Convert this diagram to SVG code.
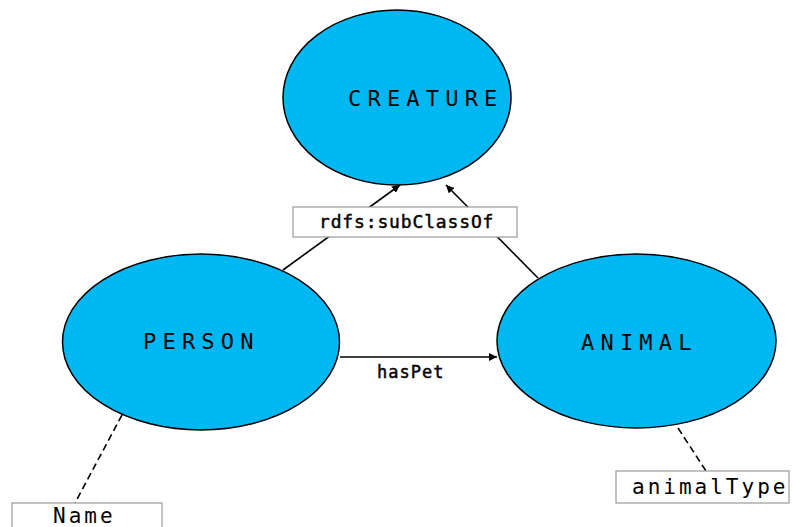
<svg xmlns="http://www.w3.org/2000/svg" width="793" height="527" viewBox="0 0 793 527">
  <style>
    .cls { fill: #00B8F1; stroke: #000; stroke-width: 1.5; }
    .cls-label { font-family: "DejaVu Sans Mono", monospace; font-size: 22px; letter-spacing: 6.2px; fill: #000; }
    .box { fill: #fff; stroke: #999; stroke-width: 1.2; }
    .mono { font-family: "DejaVu Sans Mono", monospace; fill: #000; }
    .heavy { stroke: #000; stroke-width: 0.45; }
    .edge { stroke: #000; stroke-width: 1.6; fill: none; }
    .dash { stroke: #000; stroke-width: 1.6; fill: none; stroke-dasharray: 7 4; }
  </style>
  <defs>
    <marker id="arrow" viewBox="0 0 10 10" refX="10" refY="5" markerWidth="8" markerHeight="8" markerUnits="userSpaceOnUse" orient="auto">
      <path d="M0,0 L10,5 L0,10 z" fill="#000"/>
    </marker>
  </defs>
  <rect width="793" height="527" fill="#fff"/>

  <!-- connectors -->
  <g id="connectors">
    <line class="edge" x1="283" y1="270" x2="400" y2="185" marker-end="url(#arrow)"/>
    <line class="edge" x1="538" y1="278" x2="446" y2="185" marker-end="url(#arrow)"/>
    <line class="edge" x1="340" y1="357" x2="497" y2="357" marker-end="url(#arrow)"/>
    <line class="dash" x1="122" y1="415" x2="75" y2="503"/>
    <line class="dash" x1="678" y1="428" x2="706" y2="471"/>
    <g id="label-subclassof">
      <rect class="box" x="293" y="207" width="224" height="30"/>
      <text class="mono heavy" x="319" y="228" font-size="18" letter-spacing="0.85">rdfs:subClassOf</text>
    </g>
    <text class="mono heavy" x="377" y="378" font-size="17" letter-spacing="1" fill="#222" stroke="#222">hasPet</text>
  </g>

  <g id="creature">
    <ellipse class="cls" cx="397" cy="97.5" rx="114" ry="87.5"/>
    <text class="cls-label" x="348" y="106">CREATURE</text>
  </g>

  <g id="person">
    <ellipse class="cls" cx="201" cy="342" rx="138.5" ry="88"/>
    <text class="cls-label" x="143" y="349">PERSON</text>
  </g>

  <g id="animal">
    <ellipse class="cls" cx="636.5" cy="341" rx="139.5" ry="87"/>
    <text class="cls-label" x="581" y="350">ANIMAL</text>
  </g>

  <g id="name">
    <rect class="box" x="12" y="503" width="150" height="30"/>
    <text class="mono" x="53" y="523" font-size="21" letter-spacing="3">Name</text>
  </g>

  <g id="animaltype">
    <rect class="box" x="616" y="471" width="173" height="32"/>
    <text class="mono" x="632" y="494" font-size="21" letter-spacing="3">animalType</text>
  </g>
</svg>
